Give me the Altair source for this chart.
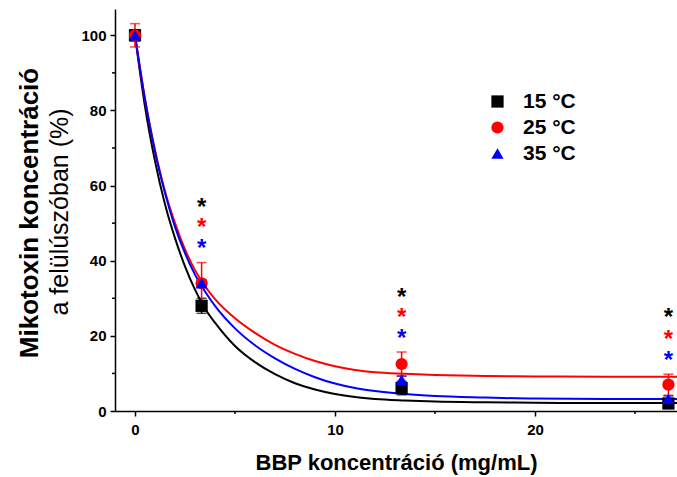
import altair as alt
import pandas as pd

series = ["15 °C", "25 °C", "35 °C"]
colors = ["#000000", "#ff0000", "#0000ff"]
shapes = ["square", "circle", "triangle-up"]

# measured points
x_points = [0, 3.33, 13.33, 26.67]
y_15 = [100, 28.0, 6.1, 2.0]
e_15 = [1.5, 2.0, 1.8, 0.8]
y_25 = [100, 34.0, 12.5, 7.0]
e_25 = [3.1, 5.5, 3.2, 2.8]
y_35 = [100, 34.0, 8.3, 3.2]
e_35 = [1.0, 1.0, 1.0, 0.8]

# fitted curves
curve_x = [0, 0.5, 1, 1.5, 2, 2.5, 3, 3.5, 4, 5, 6, 7, 8, 9, 10, 11, 12, 13.5, 15, 17.5, 20, 23.5, 27.1]
curve_15 = [100, 81, 66.5, 55, 46, 38.5, 32.3, 27.3, 23.5, 17.3, 13.0, 9.8, 7.4, 5.7, 4.5, 3.7, 3.2, 2.8, 2.5, 2.3, 2.2, 2.1, 2.1]
curve_25 = [100, 83, 69.5, 58.5, 50, 43, 37.5, 33.2, 29.8, 24.7, 20.8, 17.6, 15.2, 13.3, 11.9, 10.9, 10.3, 9.9, 9.6, 9.3, 9.2, 9.1, 9.1]
curve_35 = [100, 83, 69, 58, 49, 42, 36.3, 31.8, 28, 22, 17.5, 14, 11.2, 9.0, 7.3, 6.1, 5.3, 4.5, 4.0, 3.6, 3.3, 3.2, 3.2]

# significance stars
star_x = [3.33, 13.33, 26.67]
star_15 = [55.2, 31.2, 25.9]
star_25 = [49.9, 25.9, 20.0]
star_35 = [44.3, 20.3, 14.4]

x_major = [0, 10, 20]
x_minor = [5, 15, 25]
y_major = [0, 20, 40, 60, 80, 100]
y_minor = [10, 30, 50, 70, 90]

FONT = "Liberation Sans"

pts_rows = []
for s, ys, es in zip(series, [y_15, y_25, y_35], [e_15, e_25, e_35]):
    for x, y, e in zip(x_points, ys, es):
        pts_rows.append({"series": s, "x": x, "y": y, "lo": y - e, "hi": y + e})
pts = pd.DataFrame(pts_rows)

xscale = alt.Scale(domain=[-1, 27.1], nice=False, zero=False)
yscale = alt.Scale(domain=[0, 107], nice=False)

xaxis = alt.Axis(values=x_major, format="d", grid=False, tickSize=5, tickWidth=1.5,
                 domainColor="black", domainWidth=1.5, tickColor="black",
                 labelFont=FONT, labelFontSize=15, labelFontWeight="bold", labelColor="black",
                 labelPadding=6,
                 title="BBP koncentráció (mg/mL)", titleFont=FONT, titleFontSize=22,
                 titleFontWeight="bold", titleColor="black", titlePadding=15)
yaxis = alt.Axis(values=y_major, format="d", grid=False, tickSize=5, tickWidth=1.5,
                 domainColor="black", domainWidth=1.5, tickColor="black",
                 labelFont=FONT, labelFontSize=15, labelFontWeight="bold", labelColor="black",
                 labelPadding=4, title=None)

line_layers, err_layers, star_layers = [], [], []
for i, (s, c, cy, sy) in enumerate(zip(series, colors, [curve_15, curve_25, curve_35],
                                       [star_15, star_25, star_35])):
    cdf = pd.DataFrame({"x": curve_x, "y": cy})
    if i == 0:
        enc = dict(x=alt.X("x:Q", scale=xscale, axis=xaxis),
                   y=alt.Y("y:Q", scale=yscale, axis=yaxis))
    else:
        enc = dict(x="x:Q", y="y:Q")
    line_layers.append(alt.Chart(cdf).mark_line(strokeWidth=2, interpolate="monotone",
                                                color=c).encode(**enc))
    pdf = pts[pts["series"] == s]
    err_layers.append(alt.Chart(pdf).mark_rule(strokeWidth=1.5, color=c).encode(
        x="x:Q", y="lo:Q", y2="hi:Q"))
    err_layers.append(alt.Chart(pdf).mark_tick(orient="horizontal", size=10, thickness=1.5,
                                               color=c).encode(x="x:Q", y="hi:Q"))
    err_layers.append(alt.Chart(pdf).mark_tick(orient="horizontal", size=10, thickness=1.5,
                                               color=c).encode(x="x:Q", y="lo:Q"))
    sdf = pd.DataFrame({"x": star_x, "y": sy})
    star_layers.append(
        alt.Chart(sdf).mark_text(text="*", font=FONT, fontSize=24, fontWeight="bold",
                                 baseline="alphabetic", dy=11, color=c).encode(
            x="x:Q", y="y:Q"))

points = alt.Chart(pts).mark_point(filled=True, size=150, opacity=1).encode(
    x="x:Q", y="y:Q",
    color=alt.Color("series:N", scale=alt.Scale(domain=series, range=colors),
                    legend=alt.Legend(title=None, orient="none", legendX=372, legendY=82,
                                      labelFont=FONT, labelFontSize=21, labelFontWeight="bold",
                                      labelColor="black", symbolSize=150, rowPadding=4,
                                      labelOffset=15)),
    shape=alt.Shape("series:N", scale=alt.Scale(domain=series, range=shapes)),
)

minor_y = alt.Chart(pd.DataFrame({"v": y_minor})).mark_rule(color="black", strokeWidth=1.5).encode(
    y="v:Q", x=alt.value(-3), x2=alt.value(0))
minor_x = alt.Chart(pd.DataFrame({"v": x_minor})).mark_rule(color="black", strokeWidth=1.5).encode(
    x="v:Q", y=alt.value(402), y2=alt.value(405))

ytitle = pd.DataFrame({"t": ["Mikotoxin koncentráció"]})
ytitle2 = pd.DataFrame({"t": ["a felülúszóban (%)"]})
yt1 = alt.Chart(ytitle).mark_text(angle=270, font=FONT, fontSize=26, fontWeight="bold",
                                   color="black", baseline="middle", align="center").encode(
    text="t:N", x=alt.value(-85), y=alt.value(204))
yt2 = alt.Chart(ytitle2).mark_text(angle=270, font=FONT, fontSize=25, fontWeight="normal",
                                   color="black", baseline="middle", align="center").encode(
    text="t:N", x=alt.value(-55), y=alt.value(203))

chart = alt.layer(
    *line_layers, *err_layers, points, *star_layers, minor_y, minor_x, yt1, yt2
).properties(
    width=562, height=402,
    autosize=alt.AutoSizeParams(type="none"),
    padding={"left": 115, "top": 9, "right": 0, "bottom": 66},
    background="white",
).configure_view(stroke=None).configure_axis(labelFlush=False)

chart.save("out.html", embed_options={"renderer": "svg", "actions": False})
